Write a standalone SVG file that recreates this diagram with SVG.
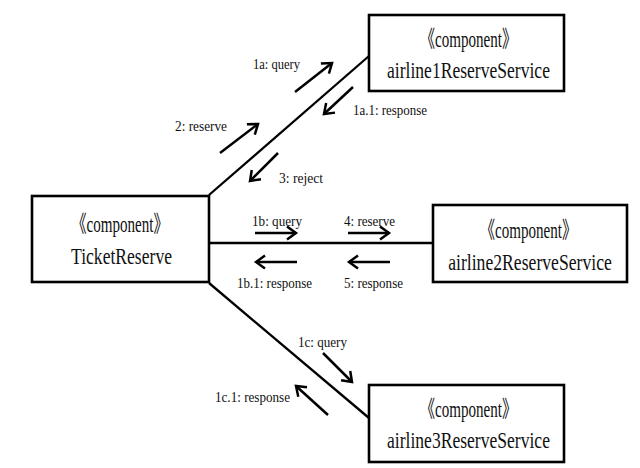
<svg xmlns="http://www.w3.org/2000/svg" width="640" height="468" viewBox="0 0 640 468">
<style>
.box{fill:#fff;stroke:#000;stroke-width:2.6}
.conn{stroke:#000;stroke-width:2.3;fill:none}
.msg{stroke:#000;stroke-width:2.5;fill:none;marker-end:url(#arr)}
.big{font-family:"Liberation Serif","Noto Sans CJK SC",serif;font-size:23px;fill:#111;text-anchor:middle}
.lbl{font-family:"Liberation Serif","Noto Sans CJK SC",serif;font-size:15px;fill:#111}
</style>
<defs>
<marker id="arr" markerUnits="userSpaceOnUse" viewBox="-12 -8 15 16" markerWidth="15" markerHeight="16" refX="0" refY="0" orient="auto">
<path d="M-9,-6.5 L0,0 L-9,6.5" fill="none" stroke="#000" stroke-width="2.5"/>
</marker>
</defs>
<rect width="640" height="468" fill="#fff"/>
<g id="connectors">
<line class="conn" x1="209" y1="195" x2="369" y2="56"/>
<line class="conn" x1="209" y1="243" x2="433" y2="243"/>
<line class="conn" x1="209" y1="283" x2="369" y2="418"/>
</g>
<g id="messages">
<line class="msg" x1="295" y1="92" x2="332" y2="63"/>
<text class="lbl" x="253" y="69" textLength="47" lengthAdjust="spacingAndGlyphs">1a: query</text>
<line class="msg" x1="353" y1="87" x2="324" y2="114"/>
<text class="lbl" x="353" y="115" textLength="74" lengthAdjust="spacingAndGlyphs">1a.1: response</text>
<line class="msg" x1="220" y1="153" x2="258" y2="124"/>
<text class="lbl" x="175" y="131" textLength="52" lengthAdjust="spacingAndGlyphs">2: reserve</text>
<line class="msg" x1="278" y1="153" x2="250" y2="181"/>
<text class="lbl" x="279" y="183" textLength="44" lengthAdjust="spacingAndGlyphs">3: reject</text>
<line class="msg" x1="255" y1="233" x2="296" y2="233"/>
<text class="lbl" x="252" y="226" textLength="50" lengthAdjust="spacingAndGlyphs">1b: query</text>
<line class="msg" x1="348" y1="233" x2="389" y2="233"/>
<text class="lbl" x="344" y="226" textLength="51" lengthAdjust="spacingAndGlyphs">4: reserve</text>
<line class="msg" x1="297" y1="262" x2="256" y2="262"/>
<text class="lbl" x="237" y="288" textLength="75" lengthAdjust="spacingAndGlyphs">1b.1: response</text>
<line class="msg" x1="390" y1="262" x2="349" y2="262"/>
<text class="lbl" x="344" y="288" textLength="59" lengthAdjust="spacingAndGlyphs">5: response</text>
<line class="msg" x1="323" y1="353" x2="352" y2="382"/>
<text class="lbl" x="298" y="347" textLength="49" lengthAdjust="spacingAndGlyphs">1c: query</text>
<line class="msg" x1="328" y1="415" x2="296" y2="386"/>
<text class="lbl" x="215" y="402" textLength="75" lengthAdjust="spacingAndGlyphs">1c.1: response</text>
</g>
<g id="TicketReserve">
<rect class="box" x="32" y="196" width="177" height="86"/>
<text class="big" transform="translate(120,232) scale(0.765,1)" textLength="127" lengthAdjust="spacingAndGlyphs">《component》</text>
<text class="big" transform="translate(121.5,264) scale(0.765,1)" textLength="132" lengthAdjust="spacingAndGlyphs">TicketReserve</text>
</g>
<g id="airline1ReserveService">
<rect class="box" x="369" y="15" width="195" height="76"/>
<text class="big" transform="translate(468.5,47) scale(0.765,1)" textLength="127" lengthAdjust="spacingAndGlyphs">《component》</text>
<text class="big" transform="translate(468.5,78) scale(0.765,1)" textLength="213" lengthAdjust="spacingAndGlyphs">airline1ReserveService</text>
</g>
<g id="airline2ReserveService">
<rect class="box" x="433" y="205" width="194" height="77"/>
<text class="big" transform="translate(528.5,238) scale(0.765,1)" textLength="127" lengthAdjust="spacingAndGlyphs">《component》</text>
<text class="big" transform="translate(530,270) scale(0.765,1)" textLength="214" lengthAdjust="spacingAndGlyphs">airline2ReserveService</text>
</g>
<g id="airline3ReserveService">
<rect class="box" x="369" y="385" width="195" height="77"/>
<text class="big" transform="translate(468.5,417) scale(0.765,1)" textLength="127" lengthAdjust="spacingAndGlyphs">《component》</text>
<text class="big" transform="translate(468.5,448) scale(0.765,1)" textLength="213" lengthAdjust="spacingAndGlyphs">airline3ReserveService</text>
</g>
</svg>
